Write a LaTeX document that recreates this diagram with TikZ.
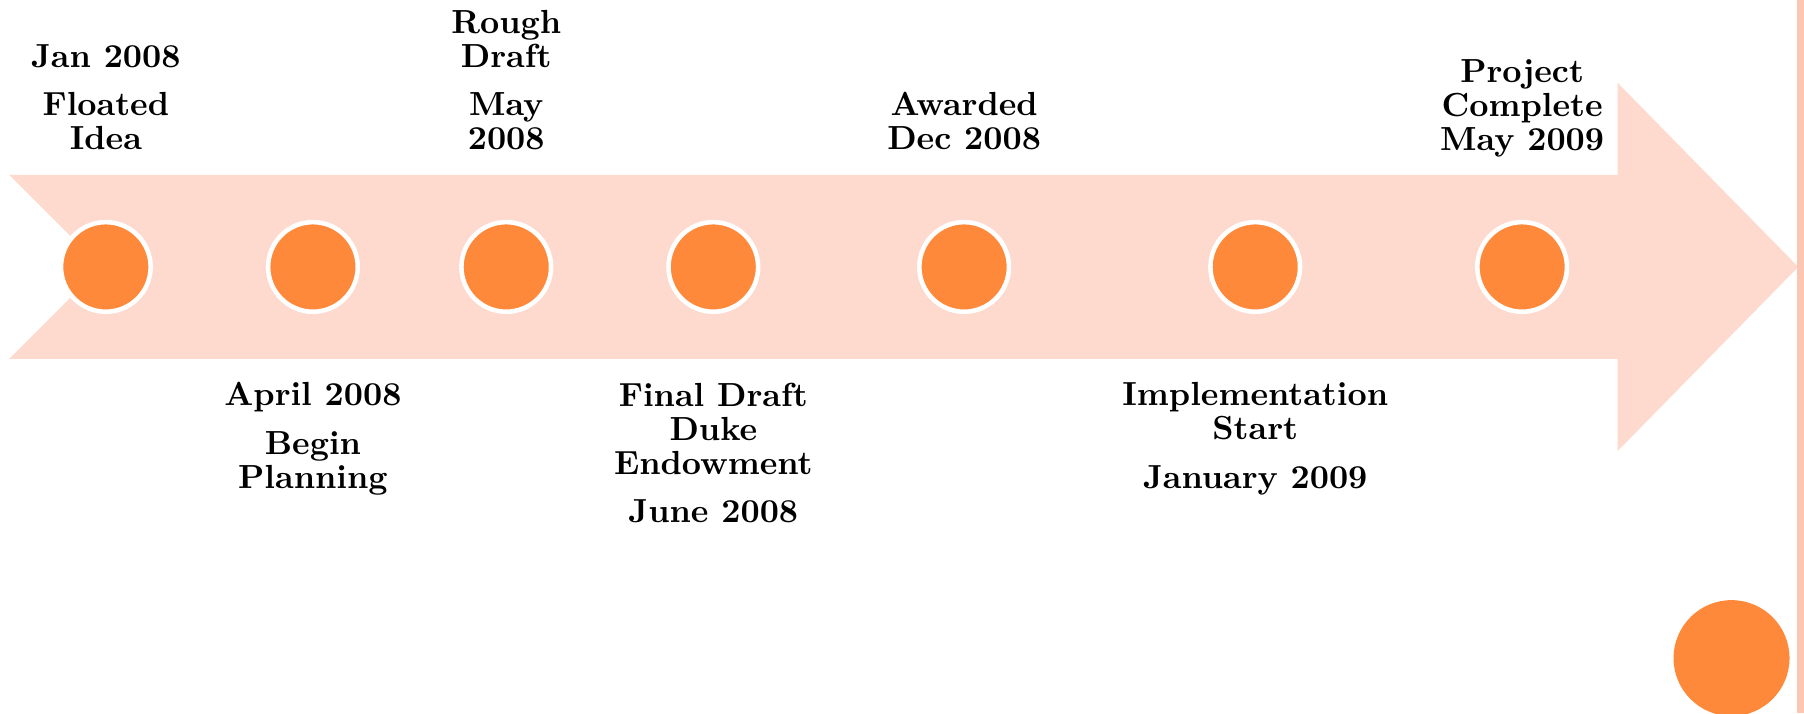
\documentclass[tikz,border=0pt]{standalone}
\usepackage{tikz}

\definecolor{bandpink}{RGB}{253,217,206}
\definecolor{dotorange}{RGB}{255,137,58}
\definecolor{edgepink}{RGB}{252,199,178}

\tikzset{
    dot/.style={circle, fill=dotorange, draw=white, line width=1.3pt, minimum size=25.5pt, inner sep=0pt},
    lbl/.style={align=center, inner sep=0pt, font=\fontsize{9.5}{9.7}\selectfont\bfseries},
}

\begin{document}
\begin{tikzpicture}[x=0.011505cm, y=-0.011505cm]
        \useasboundingbox (0,0) rectangle (1568,620);
        % band with arrow head
        \fill[bandpink] (8,152) -- (1406,152) -- (1406,72) -- (1563,232) -- (1406,392)
            -- (1406,312) -- (8,312) -- (88,232) -- cycle;
        \fill[edgepink] (1562,0) rectangle (1568,620);
        \foreach \i/\x in {1/92,2/272,3/440,4/620,5/838,6/1091,7/1323}
        {%
            \node[dot] (d\i) at (\x,232) {};
        }%
        \node[circle, fill=dotorange, minimum size=33pt, inner sep=0pt] (corner) at (1505,572) {};
        % labels above
        \node[lbl, anchor=south] (t1) at (92,131) {Jan 2008\\[4pt] Floated\\ Idea};
        \node[lbl, anchor=south] (t3) at (440,131) {Rough\\ Draft\\[4pt] May\\ 2008};
        \node[lbl, anchor=south] (t5) at (838,131) {Awarded\\ Dec 2008};
        \node[lbl, anchor=south] (t7) at (1323,137) {Project\\ Complete\\ May 2009};
        % labels below
        \node[lbl, anchor=north] (t2) at (272,332) {April 2008\\[4pt] Begin\\ Planning};
        \node[lbl, anchor=north] (t4) at (620,332) {Final Draft\\ Duke\\ Endowment\\[4pt] June 2008};
        \node[lbl, anchor=north] (t6) at (1091,332) {Implementation\\ Start\\[4pt] January 2009};
    \end{tikzpicture}
\end{document}
